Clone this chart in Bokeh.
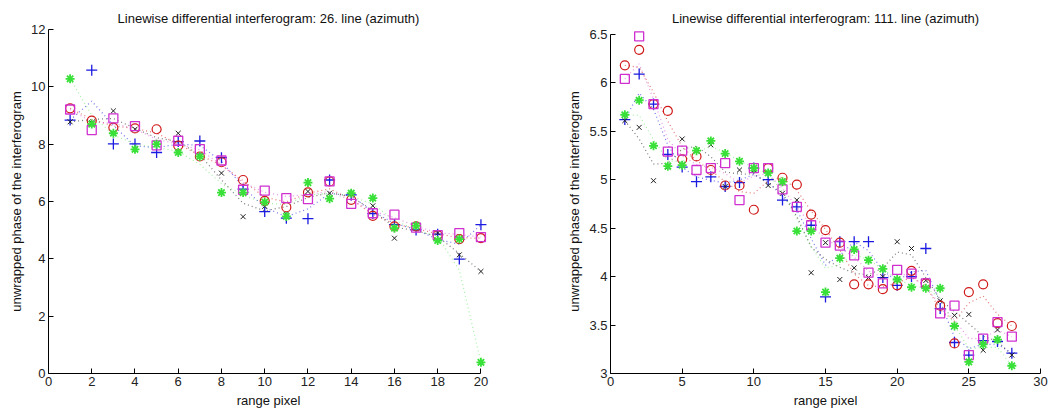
import numpy as np
from bokeh.plotting import figure
from bokeh.layouts import row
from bokeh.models import FixedTicker, Range1d
from bokeh.embed import file_html
from bokeh.resources import INLINE

# ---------------- data: left panel (line 26) ----------------
x_left = list(range(1, 21))
left_blue = [8.84, 10.58, 8.01, 8.01, 7.71, 8.09, 8.11, 7.53, 6.43, 5.65,
             5.42, 5.40, 6.75, 6.23, 5.58, 5.19, 5.01, 4.86, 3.99, 5.19]
left_black = [8.78, 8.75, 9.16, 8.52, 8.00, 8.38, 7.57, 6.99, 5.47, 5.83,
              5.56, 6.35, 6.29, 6.29, 5.85, 4.72, 5.15, 4.90, 4.14, 3.56]
left_red = [9.25, 8.82, 8.58, 8.55, 8.52, 7.95, 7.57, 7.37, 6.75, 6.02,
            5.80, 6.32, 6.70, 6.06, 5.50, 5.13, 5.13, 4.83, 4.69, 4.72]
left_magenta = [9.21, 8.49, 8.90, 8.63, 7.96, 8.12, 7.83, 7.43, 6.41, 6.38,
                6.12, 6.08, 6.70, 5.92, 5.59, 5.54, 5.09, 4.83, 4.90, 4.76]
left_green = [10.28, 8.70, 8.38, 7.82, 8.00, 7.71, 7.57, 6.31, 6.31, 5.98,
              5.48, 6.66, 6.10, 6.29, 6.12, 5.07, 5.15, 4.64, 4.69, 0.39]

# ---------------- data: right panel (line 111) ----------------
x_right = list(range(1, 29))
right_blue = [5.62, 6.09, 5.78, 5.26, 5.13, 4.98, 5.03, 4.93, 4.97, 5.12,
              5.00, 4.79, 4.72, 4.53, 3.79, 4.36, 4.36, 4.36, 3.99, 3.91,
              4.00, 4.29, 3.67, 3.32, 3.19, 3.34, 3.33, 3.21]
right_black = [5.61, 5.54, 4.99, 5.13, 5.42, 5.30, 5.36, 4.93, 5.10, 5.10,
               4.94, 4.86, 4.79, 4.04, 4.35, 3.97, 4.09, 3.99, 4.00, 4.36,
               4.29, 3.96, 3.75, 3.60, 3.61, 3.24, 3.45, 3.19]
right_red = [6.18, 6.34, 5.78, 5.71, 5.21, 5.24, 5.10, 4.94, 4.94, 4.69,
             5.12, 5.02, 4.95, 4.64, 4.48, 4.35, 3.92, 3.92, 3.87, 3.91,
             4.06, 3.93, 3.70, 3.31, 3.84, 3.92, 3.52, 3.49]
right_magenta = [6.04, 6.48, 5.78, 5.29, 5.30, 5.10, 5.12, 5.17, 4.79, 5.12,
                 5.12, 4.90, 4.72, 4.53, 4.35, 4.32, 4.22, 4.04, 3.93, 4.07,
                 4.03, 3.93, 3.62, 3.70, 3.19, 3.36, 3.53, 3.38]
right_green = [5.67, 5.82, 5.35, 5.14, 5.15, 5.30, 5.40, 5.27, 5.19, 5.12,
               5.07, 4.98, 4.47, 4.47, 3.84, 4.19, 4.28, 4.17, 4.08, 3.97,
               3.89, 3.88, 3.88, 3.49, 3.12, 3.30, 3.35, 3.08]

left_title = "Linewise differential interferogram: 26. line (azimuth)"
right_title = "Linewise differential interferogram: 111. line (azimuth)"
x_label = "range pixel"
y_label = "unwrapped phase of the interferogram"

left_xticks = [0, 2, 4, 6, 8, 10, 12, 14, 16, 18, 20]
left_yticks = [0, 2, 4, 6, 8, 10, 12]
right_xticks = [0, 5, 10, 15, 20, 25, 30]
right_yticks = [3, 3.5, 4, 4.5, 5, 5.5, 6, 6.5]

FONT = "Liberation Sans"
C_BLUE = "#1a1ae0"
C_BLACK = "#202020"
C_RED = "#d01818"
C_MAG = "#d030d0"
C_GREEN = "#38e038"


def smooth(v):
    v = np.asarray(v, dtype=float)
    out = v.copy()
    out[1:-1] = 0.25 * v[:-2] + 0.5 * v[1:-1] + 0.25 * v[2:]
    return out


def fmt(t):
    return str(int(t)) if float(t).is_integer() else str(t)


def make_fig(width, xr, xb, yr, yb, xticks, yticks, borders, title):
    l, r, t, b = borders
    p = figure(width=width, height=410, x_range=Range1d(*xr), y_range=Range1d(*yr),
               output_backend="svg", toolbar_location=None,
               min_border_left=l, min_border_right=r, min_border_top=t, min_border_bottom=b)
    p.title.text = title
    p.title.align = "center"
    p.title.text_font = FONT
    p.title.text_font_size = "13px"
    p.title.text_font_style = "normal"
    p.title.text_color = "#111111"
    p.title.offset = 0
    p.title.standoff = 7
    p.grid.visible = False
    p.outline_line_color = None
    p.background_fill_color = "white"
    p.border_fill_color = "white"
    p.xaxis.bounds = xb
    p.yaxis.bounds = yb
    p.xaxis.ticker = FixedTicker(ticks=xticks)
    p.yaxis.ticker = FixedTicker(ticks=yticks)
    p.xaxis.major_label_overrides = {tk: fmt(tk) for tk in xticks}
    p.yaxis.major_label_overrides = {tk: fmt(tk) for tk in yticks}
    for ax in (p.xaxis, p.yaxis):
        ax.major_tick_in = 5
        ax.major_tick_out = 0
        ax.minor_tick_in = 0
        ax.minor_tick_out = 0
        ax.axis_line_color = "black"
        ax.major_tick_line_color = "black"
        ax.major_label_text_font = FONT
        ax.major_label_text_font_size = "13px"
        ax.major_label_text_color = "#222222"
        ax.major_label_standoff = 3
        ax.axis_label_text_font = FONT
        ax.axis_label_text_font_size = "13px"
        ax.axis_label_text_font_style = "normal"
        ax.axis_label_text_color = "#111111"
        ax.axis_label_standoff = 4
    p.xaxis.axis_label = x_label
    p.yaxis.axis_label = y_label
    return p


def draw(p, x, blue, black, red, mag, green):
    for ys, c, a in ((blue, C_BLUE, 0.6), (black, C_BLACK, 0.6), (red, C_RED, 0.6),
                     (mag, C_MAG, 0.5), (green, C_GREEN, 0.45)):
        p.line(x, smooth(ys), line_color=c, line_dash="1 3", line_width=1.2, line_alpha=a)
    p.scatter(x, blue, marker="cross", size=11, line_color=C_BLUE, line_width=1.3)
    p.scatter(x, black, marker="x", size=7, line_color=C_BLACK, line_width=1)
    p.scatter(x, red, marker="circle", size=9, line_color=C_RED, fill_color=None, line_width=1.2)
    p.scatter(x, mag, marker="square", size=9, line_color=C_MAG, fill_color=None, line_width=1.3)
    p.scatter(x, green, marker="asterisk", size=9, line_color=C_GREEN, line_width=1.8)


p1 = make_fig(525, (0, 20.35), (0, 20), (0, 12), (0, 12), left_xticks, left_yticks,
              (48, 37, 29, 36), left_title)
draw(p1, x_left, left_blue, left_black, left_red, left_magenta, left_green)

p2 = make_fig(530, (0, 30), (0, 30), (3, 6.55), (3, 6.5), right_xticks, right_yticks,
              (85, 15, 28, 36), right_title)
draw(p2, x_right, right_blue, right_black, right_red, right_magenta, right_green)

layout = row(p1, p2, spacing=0)
open("out.html", "w").write(file_html(layout, INLINE))
